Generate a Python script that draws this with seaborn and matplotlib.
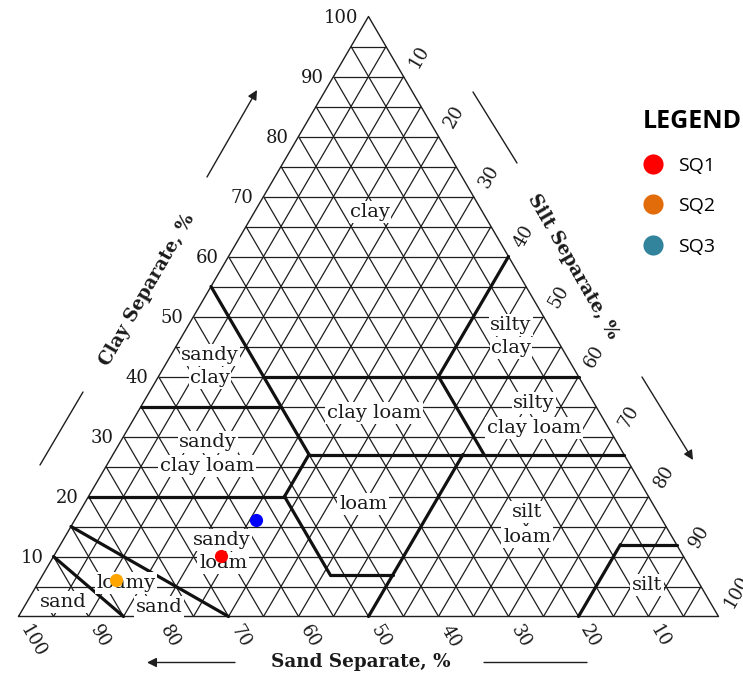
import numpy as np
import pandas as pd
import matplotlib
matplotlib.use("Agg")
import matplotlib.pyplot as plt
from matplotlib.lines import Line2D
import seaborn as sns

# ---- sample compositions (percent) ----
samples = ["SQ1", "SQ2", "SQ3"]
sand = [66, 83, 58]
silt = [24, 11, 26]
clay = [10, 6, 16]
point_colors = ["#ff0000", "#ffa500", "#0000ff"]
legend_colors = ["#ff0000", "#e36c0a", "#31849b"]

# percent scale labelled along each side
tick_values = [10, 20, 30, 40, 50, 60, 70, 80, 90, 100]
grid_step = 5

# USDA texture-class boundaries, each as (sand, clay) end points
boundaries = [
    [(45, 55), (45, 27)],
    [(45, 40), (0, 40)],
    [(0, 60), (20, 40)],
    [(20, 40), (20, 27)],
    [(45, 27), (0, 27)],
    [(65, 35), (45, 35)],
    [(80, 20), (52, 20)],
    [(45, 27), (52, 20)],
    [(52, 20), (52, 7)],
    [(52, 7), (43, 7)],
    [(23, 27), (50, 0)],
    [(85, 15), (70, 0)],
    [(90, 10), (85, 0)],
    [(8, 12), (20, 0)],
    [(8, 12), (0, 12)],
]

# texture class names
class_labels = ["clay", "silty", "clay", "sandy", "clay", "clay loam",
                "silty", "clay loam", "sandy", "clay loam", "loam",
                "silt", "loam", "sandy", "loam", "loamy", "sand", "sand",
                "silt"]

# ---- layout (figure pixels) ----
W, H = 743, 673
X0, Y0 = 18.5, 616.5          # 100 % sand corner
SX, SY = 7.0, 6.0             # pixels per percent


def px(xp, yp):
    """figure pixel -> plot coordinates"""
    return (xp - X0) / SX, (Y0 - yp) / SY


def tern(sa, cl):
    """(sand, clay) -> plot coordinates; silt is the remainder"""
    return 100 - sa - cl / 2.0, cl


label_pos = [(370, 212), (511, 325), (511, 348), (210, 355), (210, 378),
             (374, 413), (534, 403), (534, 428), (208, 442), (207, 466),
             (363, 504), (527, 512), (527, 537), (222, 540), (223, 563),
             (126, 583), (159, 607), (63, 602), (647, 585)]

sns.set_style("white")
plt.rcParams["font.family"] = ["DejaVu Serif", "DejaVu Sans"]

fig = plt.figure(figsize=(W / 100, H / 100), dpi=100)
ax = fig.add_axes([0, 0, 1, 1])
ax.set_xlim(px(0, 0)[0], px(W, 0)[0])
ax.set_ylim(px(0, H)[1], px(0, 0)[1])
ax.axis("off")

grid_kw = dict(color="#1e1e1e", lw=0.9, solid_capstyle="butt", zorder=1)
for v in range(grid_step, 100, grid_step):
    # constant clay
    ax.plot([v / 2, 100 - v / 2], [v, v], **grid_kw)
    # constant sand
    ax.plot([100 - v, (100 - v) / 2], [0, 100 - v], **grid_kw)
    # constant silt
    ax.plot([v, v + (100 - v) / 2], [0, 100 - v], **grid_kw)

# outline
ax.plot([0, 100, 50, 0], [0, 0, 100, 0], color="#1e1e1e", lw=1.0, zorder=2)

for seg in boundaries:
    pts = [tern(a, c) for a, c in seg]
    ax.plot([p[0] for p in pts], [p[1] for p in pts], color="#111111",
            lw=2.3, solid_capstyle="round", zorder=2)

mask = dict(boxstyle="square,pad=0.08", fc="white", ec="none")
for name, (xp, yp) in zip(class_labels, label_pos):
    ax.text(*px(xp, yp), name, ha="center", va="center", fontsize=14,
            color="#1a1a1a", bbox=mask, zorder=3)

# side scales
tick_kw = dict(fontsize=13, color="#1a1a1a", textcoords="offset points",
               rotation_mode="anchor", zorder=3)
k = 0.72  # pixels -> points
for v in tick_values:
    # clay, left side
    ax.annotate(str(v), xy=tern(100 - v, v), xytext=(-10 * k, -1.5 * k),
                ha="right", va="center", **tick_kw)
    # silt, right side
    ax.annotate(str(v), xy=tern(0, 100 - v), xytext=(10 * k, 10 * k),
                ha="left", va="center", rotation=60, **tick_kw)
    # sand, bottom
    ax.annotate(str(v), xy=tern(v, 0), xytext=(6 * k, -10 * k),
                ha="left", va="center", rotation=-60, **tick_kw)

# axis titles
title_kw = dict(fontsize=13.2, fontweight="bold", color="#1a1a1a",
                ha="center", va="center")
ax.text(*px(147, 290), "Clay Separate, %", rotation=60, **title_kw)
ax.text(*px(573, 267), "Silt Separate, %", rotation=-60, **title_kw)
ax.text(*px(361, 662), "Sand Separate, %", **title_kw)

# direction arrows and their leader lines
arrow_kw = dict(arrowstyle="-|>", lw=1.0, color="#1e1e1e",
                mutation_scale=14, shrinkA=0, shrinkB=0)
line_kw = dict(arrowstyle="-", lw=1.0, color="#1e1e1e", shrinkA=0, shrinkB=0)
for (a, b), kw in [(((207, 177), (257, 90)), arrow_kw),
                   (((40, 465), (83, 392)), line_kw),
                   (((473, 92), (517, 163)), line_kw),
                   (((642, 377), (693, 460)), arrow_kw),
                   (((235, 662.5), (147, 662.5)), arrow_kw),
                   (((484, 662.5), (587, 662.5)), line_kw)]:
    ax.annotate("", xy=px(*b), xytext=px(*a), arrowprops=kw)

# sample points
pts = [tern(a, c) for a, c in zip(sand, clay)]
df = pd.DataFrame({"sample": samples,
                   "x": [p[0] for p in pts],
                   "y": [p[1] for p in pts]})
sns.scatterplot(data=df, x="x", y="y", hue="sample",
                palette=dict(zip(samples, point_colors)), s=90,
                edgecolor="none", legend=False, ax=ax, zorder=5)

handles = [Line2D([], [], marker="o", ls="none", markersize=14.5,
                  markerfacecolor=c, markeredgecolor="none")
           for c in legend_colors]
leg = ax.legend(handles, samples, loc="upper left",
                bbox_to_anchor=(643 / W, 1 - 109 / H),
                bbox_transform=fig.transFigure, frameon=False,
                title="LEGEND", alignment="left",
                prop={"family": "Open Sans", "size": 14},
                title_fontproperties={"family": "Open Sans",
                                      "weight": "bold", "size": 18},
                labelcolor="black",
                handlelength=1.0, handletextpad=0.8, labelspacing=1.16,
                borderpad=0, borderaxespad=0)
leg.get_title().set_color("black")

fig.savefig("out.png", dpi=100, facecolor="white")
